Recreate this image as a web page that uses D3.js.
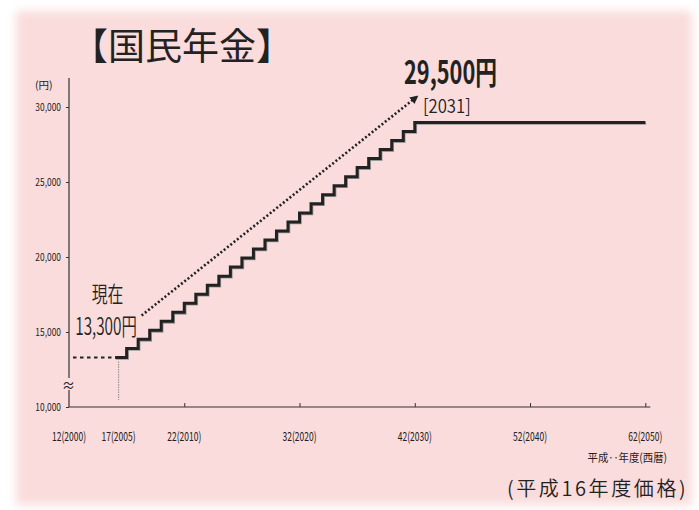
<!DOCTYPE html>
<html><head><meta charset="utf-8">
<script src="https://cdn.jsdelivr.net/npm/d3@7"></script>
<style>body{margin:0;background:#fff}svg{display:block}</style>
</head><body>
<script>
// ---- data ----
const title = "【国民年金】";
const yTicks = [10000, 15000, 20000, 25000, 30000];
const yTickLabels = ["10,000", "15,000", "20,000", "25,000", "30,000"];
const xTickYears = [2000, 2004.3, 2010, 2020, 2030, 2040, 2050];
const xTickLabels = ["12(2000)", "17(2005)", "22(2010)", "32(2020)", "42(2030)", "52(2040)", "62(2050)"];
const xAxisTickYears = [2010, 2020, 2030, 2040, 2050];
const stepYears = [2004, 2005, 2006, 2007, 2008, 2009, 2010, 2011, 2012, 2013, 2014, 2015, 2016, 2017, 2018, 2019, 2020, 2021, 2022, 2023, 2024, 2025, 2026, 2027, 2028, 2029, 2030, 2050];
const stepValues = [13300, 13900, 14510, 15110, 15710, 16310, 16920, 17520, 18120, 18720, 19330, 19930, 20530, 21140, 21740, 22340, 22940, 23550, 24150, 24750, 25350, 25960, 26560, 27160, 27760, 28370, 28970, 28970];
const currentValue = 13300;
const currentYear = 2004.3;
const arrowFrom = [2006.3, 16100];
const arrowTo = [2030.2, 30700];

const W = 699, H = 510;
const svg = d3.select("body").append("svg").attr("width", W).attr("height", H);
const defs = svg.append("defs");
defs.append("filter").attr("id", "soft").attr("x", "-10%").attr("y", "-10%").attr("width", "120%").attr("height", "120%")
  .append("feGaussianBlur").attr("stdDeviation", 5);
defs.append("marker").attr("id", "arr").attr("viewBox", "0 0 10 10").attr("refX", 8).attr("refY", 5)
  .attr("markerWidth", 3.2).attr("markerHeight", 3.2).attr("orient", "auto")
  .append("path").attr("d", "M0,0L10,5L0,10z").attr("fill", "#222");

svg.append("rect").attr("width", W).attr("height", H).attr("fill", "#fff");
svg.append("rect").attr("x", 16).attr("y", 11).attr("width", 676).attr("height", 494)
  .attr("fill", "#fadcdc").attr("filter", "url(#soft)");

const x = d3.scaleLinear().domain([2000, 2050]).range([69, 645.3]);
const y = d3.scaleLinear().domain([10000, 30000]).range([407, 107]);
const FONT = "'Noto Sans CJK JP', sans-serif";

function txt(px, py, str, o) {
  const sx = o.sx || 1, sy = o.sy || 1;
  const t = svg.append("text")
    .attr("transform", `translate(${px},${py}) scale(${sx},${sy})`)
    .attr("text-anchor", o.anchor || "start")
    .attr("font-family", FONT).attr("font-size", o.size)
    .attr("font-weight", o.weight || "normal")
    .attr("fill", o.fill || "#222").text(str);
  if (o.ls) t.attr("letter-spacing", o.ls);
  return t;
}

// title
txt(71, 60, title, {size: 37});

// y axis
const yAxis = d3.axisLeft(y).tickValues(yTicks).tickSize(3).tickFormat("");
const gy = svg.append("g").attr("transform", `translate(${x(2000)},0)`).call(yAxis);
gy.select(".domain").remove();
gy.selectAll("line").attr("stroke", "#333");
svg.append("line").attr("x1", x(2000)).attr("x2", x(2000)).attr("y1", 78).attr("y2", y(10000)).attr("stroke", "#333").attr("stroke-width", 1.2);
yTicks.forEach((v, i) => txt(61, y(v) + 3.8, yTickLabels[i], {size: 10.5, anchor: "end", sx: 0.8}));
txt(35, 89, "(円)", {size: 10.5});

// x axis
const xAxis = d3.axisTop(x).tickValues(xAxisTickYears).tickSize(4).tickFormat("");
const gx = svg.append("g").attr("transform", `translate(0,${y(10000)})`).call(xAxis);
gx.select(".domain").remove();
gx.selectAll("line").attr("stroke", "#333");
svg.append("line").attr("x1", x(2000)).attr("x2", x(2050) + 5).attr("y1", y(10000)).attr("y2", y(10000)).attr("stroke", "#333").attr("stroke-width", 1.2);
xTickYears.forEach((v, i) => txt(x(v), 441, xTickLabels[i], {size: 12.5, anchor: "middle", sx: 0.68}));
txt(667, 462, "平成‥年度(西暦)", {size: 11.5, anchor: "end", sx: 0.9});
txt(507, 496, "(平成16年度価格)", {size: 20, ls: 2.6, weight: 350});

// axis break symbol
svg.append("rect").attr("x", x(2000) - 5).attr("y", 378).attr("width", 10).attr("height", 12).attr("fill", "#fadcdc");
txt(x(2000) - 0.5, 390, "≈", {size: 13, anchor: "middle"});

// current year vertical dotted line
svg.append("line").attr("x1", x(currentYear)).attr("x2", x(currentYear)).attr("y1", y(currentValue) + 4).attr("y2", y(10000) - 7)
  .attr("stroke", "#999").attr("stroke-width", 1.2).attr("stroke-dasharray", "1.5,1");

// dashed line to current
svg.append("line").attr("x1", x(2000) + 4).attr("x2", x(stepYears[0])).attr("y1", y(currentValue)).attr("y2", y(currentValue))
  .attr("stroke", "#222").attr("stroke-width", 2).attr("stroke-dasharray", "3.5,3.5");

// step line
const pts = stepYears.map((yr, i) => [x(yr), y(stepValues[i])]);
const line = d3.line().curve(d3.curveStepAfter);
svg.append("path").attr("d", line(pts)).attr("fill", "none").attr("stroke", "#999").attr("stroke-width", 3)
  .attr("transform", "translate(0.8,0.8)");
svg.append("path").attr("d", line(pts)).attr("fill", "none").attr("stroke", "#222").attr("stroke-width", 3);

// dotted arrow
svg.append("line").attr("x1", x(arrowFrom[0])).attr("y1", y(arrowFrom[1])).attr("x2", x(arrowTo[0])).attr("y2", y(arrowTo[1]))
  .attr("stroke", "#222").attr("stroke-width", 2.6).attr("stroke-dasharray", "2,2.2").attr("marker-end", "url(#arr)");

// annotations
txt(107.5, 302, "現在", {size: 22, anchor: "middle", sx: 0.72, weight: 350});
txt(106, 335, "13,300円", {size: 24, anchor: "middle", sx: 0.64, weight: 350});
txt(404, 84, "29,500円", {size: 32, weight: "bold", sx: 0.68});
txt(423, 113, "[2031]", {size: 19, sx: 0.88, weight: 350});
</script>
</body></html>
